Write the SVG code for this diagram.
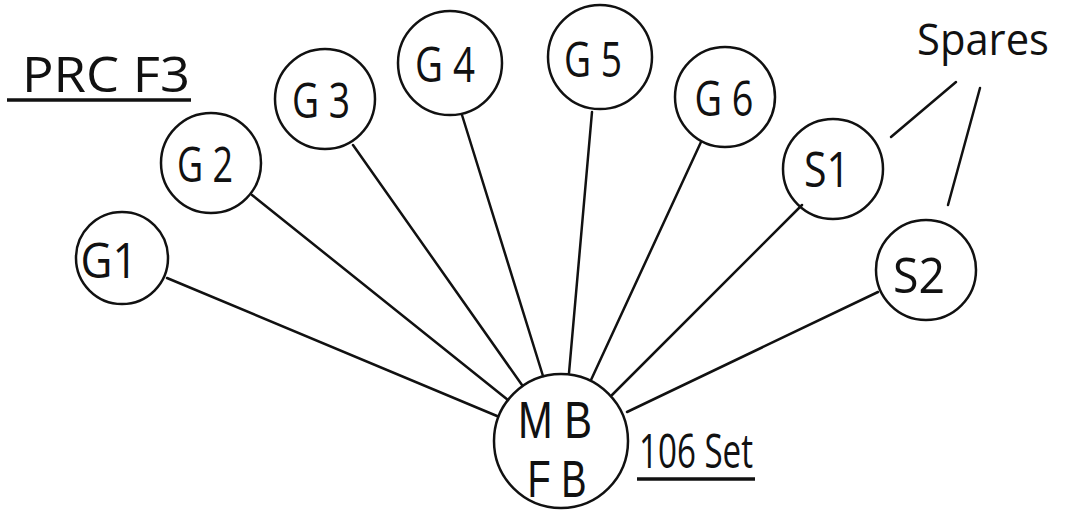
<svg xmlns="http://www.w3.org/2000/svg" width="1077" height="510" viewBox="0 0 1077 510">
  <style>
    .bg { fill: #ffffff; }
    .node circle { fill: none; stroke: #111; stroke-width: 2.5; }
    .lbl { font-family: "Open Sans", "Liberation Sans", sans-serif; font-weight: 400; font-size: 50px; fill: #111; text-anchor: middle; }
    .lbl-tight { font-family: "Liberation Sans", sans-serif; font-size: 52px; fill: #111; text-anchor: middle; }
    .title { font-family: "Open Sans", "Liberation Sans", sans-serif; font-weight: 400; fill: #111; }
    #connectors line { stroke: #111; stroke-width: 2.5; stroke-linecap: round; }
    .rule { stroke: #111; stroke-width: 3.5; }
  </style>
  <rect class="bg" x="0" y="0" width="1077" height="510"/>

  <!-- headings -->
  <text class="title" x="22" y="92" font-size="50" textLength="168" lengthAdjust="spacingAndGlyphs">PRC F3</text>
  <line class="rule" x1="7" y1="100" x2="191" y2="100"/>
  <text class="title" x="917" y="55" font-size="44" textLength="132" lengthAdjust="spacingAndGlyphs">Spares</text>
  <text class="title" x="639" y="468" font-size="48" textLength="114" lengthAdjust="spacingAndGlyphs">106 Set</text>
  <line class="rule" x1="637" y1="479" x2="755" y2="479"/>

  <!-- connectors -->
  <g id="connectors">
    <line x1="167" y1="278" x2="497" y2="416"/>
    <line x1="252" y1="195" x2="508" y2="400"/>
    <line x1="353" y1="145" x2="522" y2="385"/>
    <line x1="462" y1="115" x2="543" y2="376"/>
    <line x1="592" y1="112" x2="569" y2="373"/>
    <line x1="701" y1="142" x2="591" y2="380"/>
    <line x1="802" y1="205" x2="612" y2="395"/>
    <line x1="878" y1="292" x2="627" y2="412"/>
    <line x1="891" y1="137" x2="956" y2="82"/>
    <line x1="980" y1="88" x2="948" y2="205"/>
  </g>

  <!-- nodes -->
  <g id="node-g1" class="node"><circle cx="122" cy="258" r="46"/><text class="lbl" x="109" y="278" textLength="57" lengthAdjust="spacingAndGlyphs">G1</text></g>
  <g id="node-g2" class="node"><circle cx="211" cy="163" r="50"/><text class="lbl" x="205" y="182" textLength="56" lengthAdjust="spacingAndGlyphs">G 2</text></g>
  <g id="node-g3" class="node"><circle cx="325" cy="99" r="50"/><text class="lbl" x="321" y="118" textLength="58" lengthAdjust="spacingAndGlyphs">G 3</text></g>
  <g id="node-g4" class="node"><circle cx="450" cy="63" r="52"/><text class="lbl" x="445" y="82" textLength="60" lengthAdjust="spacingAndGlyphs">G 4</text></g>
  <g id="node-g5" class="node"><circle cx="600" cy="57" r="52"/><text class="lbl" x="593" y="77" textLength="58" lengthAdjust="spacingAndGlyphs">G 5</text></g>
  <g id="node-g6" class="node"><circle cx="725" cy="97" r="50"/><text class="lbl" x="724" y="116" textLength="59" lengthAdjust="spacingAndGlyphs">G 6</text></g>
  <g id="node-s1" class="node"><circle cx="833" cy="169" r="50"/><text class="lbl" x="827" y="187" textLength="46" lengthAdjust="spacingAndGlyphs">S1</text></g>
  <g id="node-s2" class="node"><circle cx="926" cy="270" r="50"/><text class="lbl" x="919" y="293" textLength="52" lengthAdjust="spacingAndGlyphs">S2</text></g>
  <g id="node-mbfb" class="node"><circle cx="561" cy="441" r="67"/>
    <text class="lbl-tight" x="555" y="438" textLength="74" lengthAdjust="spacingAndGlyphs">M B</text>
    <text class="lbl-tight" x="557" y="497" textLength="59" lengthAdjust="spacingAndGlyphs">F B</text>
  </g>
</svg>
